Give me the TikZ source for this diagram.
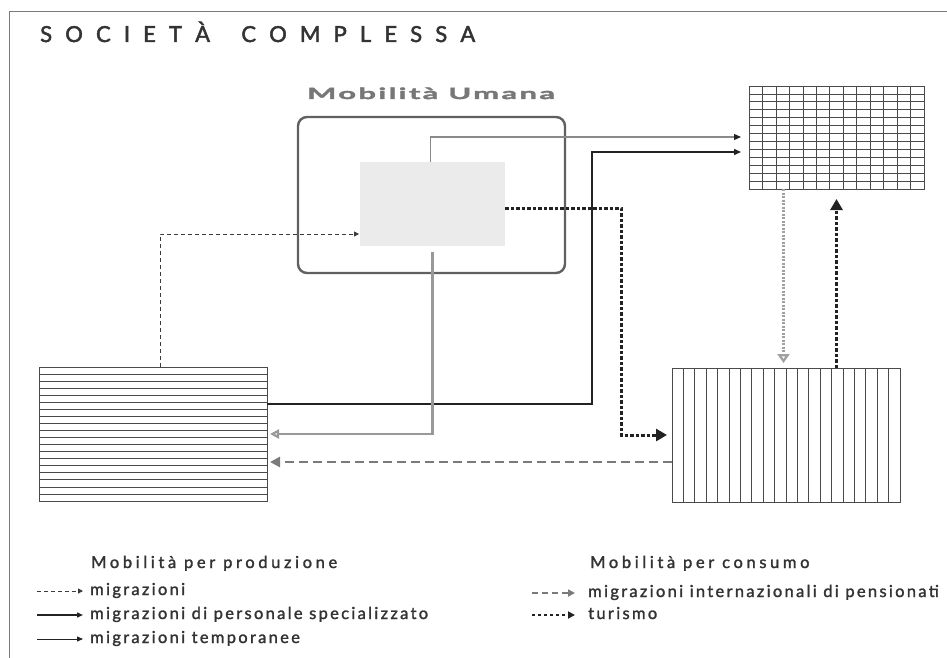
\documentclass[tikz,border=0pt]{standalone}
\usepackage{fontspec}
\setmainfont{Lato}
\newfontfamily\legfont[LetterSpace=14,FakeBold=1.6]{Lato}
\newfontfamily\legtitlefont[LetterSpace=22,FakeBold=1.6]{Lato}
\newfontfamily\titlefont[FakeBold=2.2]{Lato}
\newfontfamily\mufont[FakeStretch=2.0,LetterSpace=15,FakeBold=2.5]{Lato}
\usetikzlibrary{arrows.meta,calc}
\definecolor{framec}{HTML}{7A7A7A}
\definecolor{muborder}{HTML}{606060}
\definecolor{innerfill}{HTML}{EBEBEB}
\definecolor{hatchc}{HTML}{4A4A4A}
\definecolor{blackc}{HTML}{222222}
\definecolor{migc}{HTML}{3A3A3A}
\definecolor{tempc}{HTML}{8A8A8A}
\definecolor{tempbc}{HTML}{999999}
\definecolor{pensc}{HTML}{7A7A7A}
\definecolor{lightdot}{HTML}{A0A0A0}
\definecolor{textc}{HTML}{333333}
\definecolor{mutext}{HTML}{777777}
\tikzset{
  boxnode/.style={inner sep=0pt, outer sep=0pt, draw=hatchc, line width=0.9pt},
  hatchline/.style={draw=hatchc, line width=0.7pt},
  migr/.style={draw=migc, line width=1pt, dash pattern=on 4pt off 3pt, -{Triangle[length=5pt,width=5pt]}},
  pers/.style={draw=blackc, line width=1.4pt, -{Triangle[length=7pt,width=6pt]}},
  tempo/.style={draw=tempc, line width=1.1pt, -{Triangle[length=7pt,width=6pt,color=blackc]}},
  tempobig/.style={draw=tempbc, line width=2.2pt, -{Triangle[open,length=9pt,width=9pt]}},
  pens/.style={draw=pensc, line width=2.5pt, dash pattern=on 9pt off 5pt, -{Triangle[length=10pt,width=10pt]}},
  tur/.style={draw=blackc, line width=3pt, dash pattern=on 3.5pt off 2pt, -{Triangle[length=11pt,width=12pt]}},
  lightdotted/.style={draw=lightdot, line width=2.6pt, dash pattern=on 2pt off 1.5pt, -{Triangle[open,length=9pt,width=12pt]}},
  legtext/.style={anchor=base west, inner sep=0pt, text=textc, font=\legfont\fontsize{16.5}{18}\selectfont},
  legtitle/.style={anchor=base west, inner sep=0pt, text=textc, font=\legtitlefont\fontsize{16.5}{18}\selectfont},
}
\begin{document}
\begin{tikzpicture}[x=1pt,y=-1pt]
\useasboundingbox (0,0) rectangle (947,658);
\fill[white] (0,0) rectangle (947,658);
% frame
\draw[framec, line width=1pt] (9,658) -- (9,12) -- (947,12);
% title
\node[anchor=base west, inner sep=0pt, text=textc] (title) at (40,42)
 {\titlefont\fontsize{22}{22}\selectfont\makebox[435pt][s]{S\hfill O\hfill C\hfill I\hfill E\hfill T\hfill À\hfill\hspace{5pt}\hfill C\hfill O\hfill M\hfill P\hfill L\hfill E\hfill S\hfill S\hfill A}};
\node[anchor=base west, inner sep=0pt, text=mutext] (mulabel) at (307,99)
 {\mufont\bfseries\fontsize{15.5}{16}\selectfont Mobilità Umana};
% Mobilita Umana box
\node[inner sep=0pt, outer sep=0pt, draw=muborder, line width=2.4pt, rounded corners=9pt,
      minimum width=267pt, minimum height=156pt] (mu) at (431.5,195) {};
\node[inner sep=0pt, outer sep=0pt, fill=innerfill, minimum width=145pt, minimum height=84pt] (inner) at (432.5,204) {};
% production box (horizontal lines)
\node[boxnode, minimum width=228pt, minimum height=134pt] (prod) at (153,434) {};
\foreach \i in {1,...,18}
  \draw[hatchline] ($(prod.north west)!\i/19!(prod.south west)$) -- ($(prod.north east)!\i/19!(prod.south east)$);
% grid box
\node[boxnode, minimum width=175pt, minimum height=103pt] (grid) at (836.5,137.5) {};
\foreach \i in {1,...,12}
  \draw[hatchline] ($(grid.north west)!\i/13!(grid.north east)$) -- ($(grid.south west)!\i/13!(grid.south east)$);
\foreach \i in {1,...,12}
  \draw[hatchline] ($(grid.north west)!\i/13!(grid.south west)$) -- ($(grid.north east)!\i/13!(grid.south east)$);
% consumption box (vertical lines)
\node[boxnode, minimum width=228pt, minimum height=134pt] (cons) at (786,435) {};
\foreach \i in {1,...,19}
  \draw[hatchline] ($(cons.north west)!\i/20!(cons.north east)$) -- ($(cons.south west)!\i/20!(cons.south east)$);
% connectors
\coordinate (mstart) at ($(prod.north west)+(121,0)$);
\coordinate (mend) at ($(inner.south west)+(0,-12)$);
\draw[migr, shorten >=1pt] (mstart) |- (mend);

\coordinate (ts) at ($(inner.north)+(-2,0)$);
\coordinate (tcorner) at ($(grid.north west)+(0,51)$);
\draw[tempo, shorten >=8pt] (ts) |- (tcorner);

\coordinate (ps) at ($(prod.east)+(0,-30)$);
\coordinate (pc) at (592,152);
\draw[pers, shorten >=8pt] (ps) -| (pc) -- (pc -| grid.west);

\coordinate (tbs) at ($(inner.south)+(0,6)$);
\draw[tempobig, shorten >=3pt] (tbs) |- (prod.east);

\coordinate (tus) at ($(inner.east)+(0,4)$);
\coordinate (tuc) at (621,435);
\draw[tur, shorten >=5pt] (tus) -| (tuc) -- (tuc -| cons.west);

\coordinate (pes) at ($(cons.west)+(0,27)$);
\draw[pens, shorten >=3pt] (pes) -- (pes -| prod.east);

\coordinate (gd) at ($(grid.south)+(-53,0)$);
\draw[lightdotted, shorten >=5pt] (gd) -- (gd |- cons.north);

\draw[tur, shorten >=10pt] (grid.south |- cons.north) -- (grid.south);

% legend
\node[legtitle] (lp) at (91,568) {Mobilità per produzione};
\node[legtext] (l1) at (90,595) {migrazioni};
\node[legtext] (l2) at (90,619) {migrazioni di personale specializzato};
\node[legtext] (l3) at (90,643) {migrazioni temporanee};
\node[legtitle] (lc) at (590,568) {Mobilità per consumo};
\node[legtext] (l4) at (588,597) {migrazioni internazionali di pensionati};
\node[legtext] (l5) at (588,619) {turismo};

\draw[migr, dash pattern=on 4pt off 3pt] ($(l1.base west)+(-53,-4)$) -- ($(l1.base west)+(-7,-4)$);
\draw[pers, -{Triangle[length=6pt,width=5pt]}] ($(l2.base west)+(-53,-4)$) -- ($(l2.base west)+(-7,-4)$);
\draw[tempo, draw=blackc, line width=0.8pt, -{Triangle[length=6pt,width=5pt]}] ($(l3.base west)+(-53,-4)$) -- ($(l3.base west)+(-7,-4)$);
\draw[pens, line width=2pt, dash pattern=on 6pt off 4pt, -{Triangle[length=7pt,width=7pt]}] ($(l4.base west)+(-56,-4)$) -- ($(l4.base west)+(-13,-4)$);
\draw[tur, line width=2.5pt, dash pattern=on 3pt off 3pt, -{Triangle[length=7pt,width=7pt]}] ($(l5.base west)+(-56,-4)$) -- ($(l5.base west)+(-13,-4)$);
\end{tikzpicture}
\end{document}
